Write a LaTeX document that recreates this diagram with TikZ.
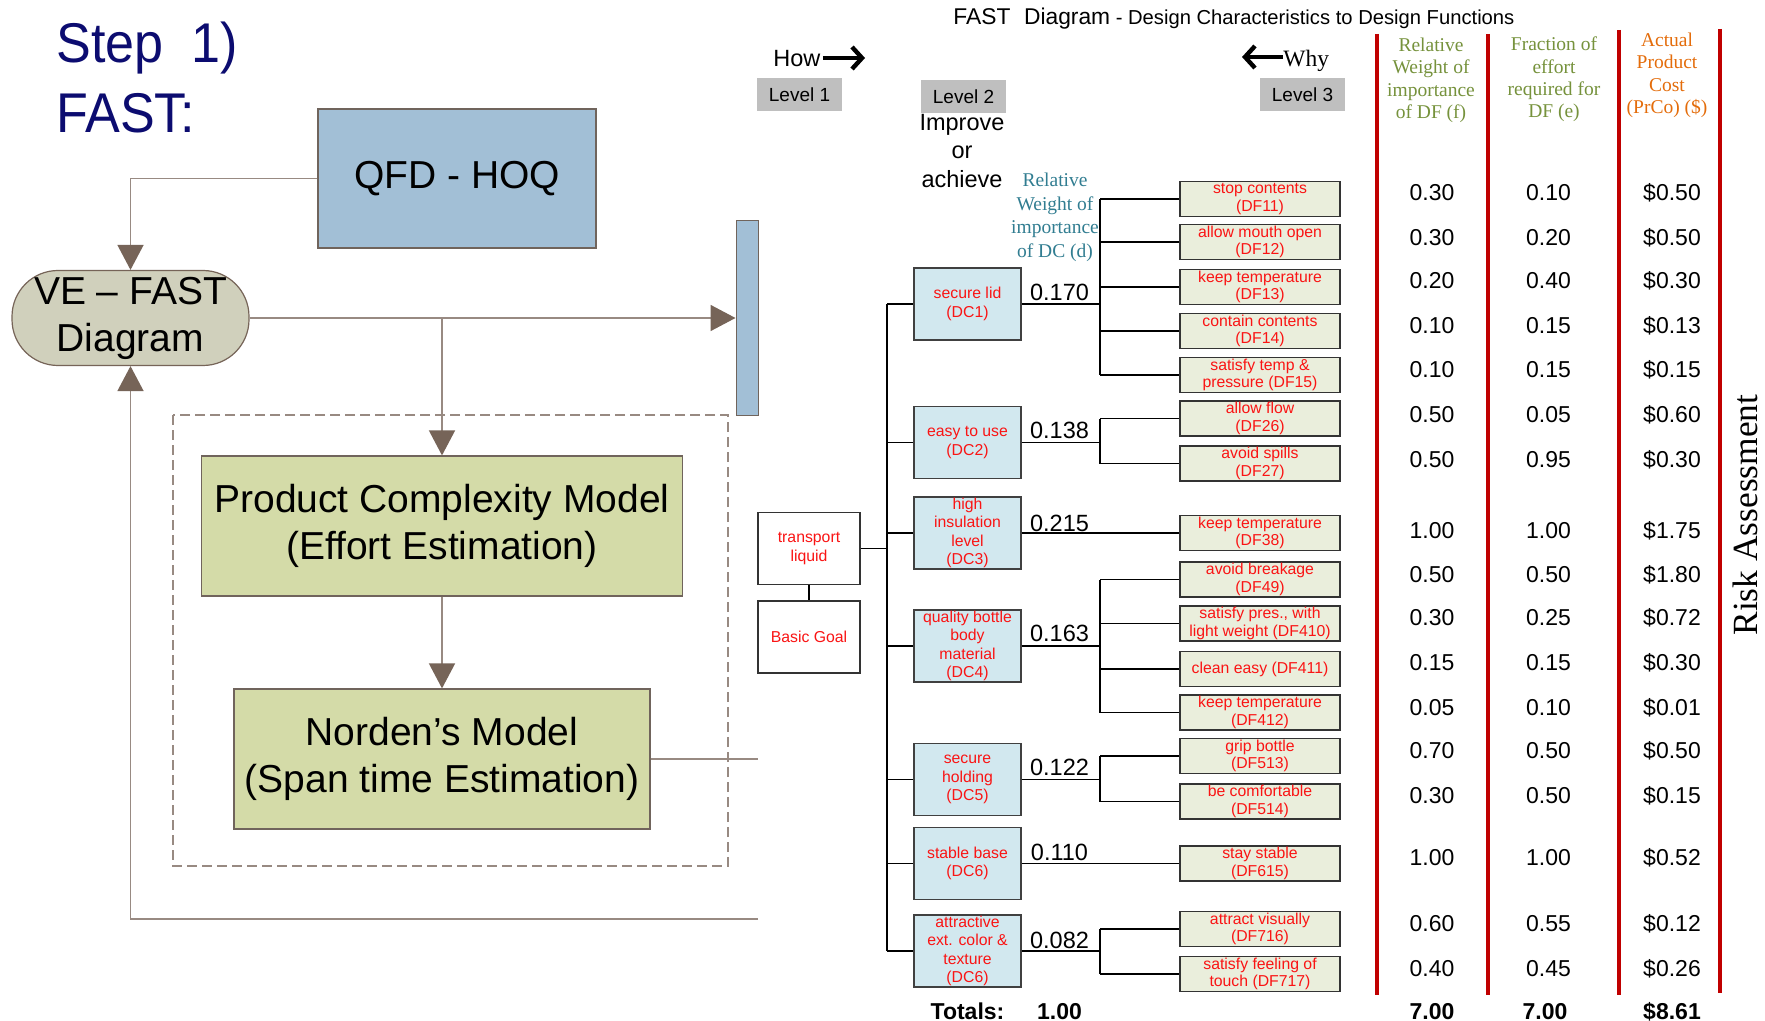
\documentclass[tikz,border=0pt]{standalone}
\usepackage{fontspec}
\setmainfont{Liberation Sans}
\newfontfamily\tnr{Liberation Serif}
\newfontfamily\stepfont[FakeStretch=0.93]{Liberation Sans}
\usetikzlibrary{arrows.meta}
\definecolor{navytxt}{RGB}{12,12,112}
\definecolor{lblue}{RGB}{162,191,214}
\definecolor{lbord}{RGB}{112,100,92}
\definecolor{vefill}{RGB}{208,208,188}
\definecolor{olfill}{RGB}{212,219,168}
\definecolor{lline}{RGB}{152,138,130}
\definecolor{lhead}{RGB}{118,100,88}
\definecolor{dcfill}{RGB}{210,232,239}
\definecolor{dffill}{RGB}{234,238,220}
\definecolor{lvgray}{RGB}{191,191,191}
\definecolor{redtxt}{RGB}{250,20,20}
\definecolor{tealtxt}{RGB}{49,125,145}
\definecolor{olivetxt}{RGB}{118,146,60}
\definecolor{orangetxt}{RGB}{228,108,10}
\definecolor{redline}{RGB}{192,0,0}
\begin{document}
\begin{tikzpicture}[x=0.5pt,y=-0.5pt,
  lbox/.style={draw=lbord,line width=0.6pt,inner sep=0pt,align=center,font=\fontsize{19.5}{23.5}\selectfont},
  lconn/.style={draw=lline,line width=0.8pt},
  larr/.style={lconn,-{Triangle[width=13pt,length=12.5pt,color=lhead]}},
  dcbox/.style={draw=black!75,fill=dcfill,line width=0.7pt,minimum width=53.5pt,minimum height=36pt,inner sep=0pt,align=center,text=redtxt,font=\fontsize{7.9}{9.3}\selectfont},
  dfbox/.style={draw=black!80,fill=dffill,line width=0.7pt,minimum width=80pt,minimum height=17.5pt,inner sep=0pt,align=center,text=redtxt,font=\fontsize{7.9}{8.9}\selectfont},
  wbox/.style={draw=black!80,fill=white,line width=0.6pt,minimum width=51pt,minimum height=36pt,inner sep=0pt,align=center,text=redtxt,font=\fontsize{7.9}{9.3}\selectfont},
  lvl/.style={fill=lvgray,minimum width=42.5pt,minimum height=16.5pt,inner sep=0pt,font=\fontsize{9.5}{11}\selectfont},
  tline/.style={draw=black,line width=0.7pt},
  num/.style={anchor=base,inner sep=0pt,font=\fontsize{11.75}{14}\selectfont},
  val/.style={anchor=base,inner sep=0pt,font=\fontsize{11.5}{14}\selectfont},
  tot/.style={anchor=base,inner sep=0pt,font=\bfseries\fontsize{11.5}{14}\selectfont},
  hdr/.style={align=center,inner sep=0pt,font=\tnr\fontsize{9.75}{11.2}\selectfont},
  rline/.style={draw=redline,line width=1.75pt},
]
\useasboundingbox[fill=white] (0,0) rectangle (1765,1021);

% ---------- left panel ----------
\node[anchor=base west,inner sep=0pt,text=navytxt,font=\stepfont\fontsize{28}{32}\selectfont] (step) at (56,63) {Step\hspace{0.5em}1)};
\node[anchor=base west,inner sep=0pt,text=navytxt,font=\stepfont\fontsize{28}{32}\selectfont] (fastl) at (56,133) {FAST:};

\node[lbox,fill=lblue,minimum width=139pt,minimum height=69.5pt] (qfd) at (457,178.5) {QFD - HOQ};
\node[lbox,fill=vefill,draw=lhead,minimum width=118.5pt,minimum height=47.5pt,rounded corners=23pt] (vefast) at (130.5,318) {VE -- FAST\\Diagram};
\node[fill=lblue,draw=lbord,line width=0.5pt,minimum width=11pt,minimum height=97pt,inner sep=0pt] (bar) at (747,318) {};
\draw[draw=lline,line width=0.7pt,dash pattern=on 5pt off 2.5pt] (173,415) rectangle (728,866);
\node[lbox,fill=olfill,minimum width=240.5pt,minimum height=70pt] (pcm) at (442,526) {Product Complexity Model\\(Effort Estimation)};
\node[lbox,fill=olfill,minimum width=208pt,minimum height=70pt] (norden) at (442,759) {Norden’s Model\\(Span time Estimation)};
\coordinate (nend) at (758,759);
\coordinate (bend) at (758,919);

\draw[larr] (qfd.west) -| (vefast.north);
\draw[larr] (vefast.east) -- (bar.west);
\draw[larr] (vefast.east -| pcm.north) -- (pcm.north);
\draw[larr] (pcm.south) -- (norden.north);
\draw[lconn] (norden.east) -- (nend);
\draw[larr] (bend) -| (vefast.south);

% ---------- right panel: headings ----------
\node[anchor=base west,inner sep=0pt] (title) at (953,25) {{\fontsize{11.4}{13}\selectfont FAST\hspace{0.6em}Diagram} {\fontsize{10.1}{12}\selectfont - Design Characteristics to Design Functions}};
\node[anchor=base west,inner sep=0pt,font=\fontsize{11.75}{14}\selectfont] (how) at (773,66.5) {How};
\coordinate (howend) at (865,58);
\draw[line width=2.2pt,-{Straight Barb[length=5pt,width=11pt]}] (how.east |- howend) ++(2,0) -- (howend);
\node[anchor=base west,inner sep=0pt,font=\tnr\fontsize{11.75}{14}\selectfont] (why) at (1283,67) {Why};
\coordinate (whyend) at (1242,57);
\draw[line width=2.2pt,-{Straight Barb[length=5pt,width=11pt]}] (why.west |- whyend) -- (whyend);

\node[lvl] (lv1) at (799.5,94.5) {Level 1};
\node[lvl] (lv2) at (963.5,96.5) {Level 2};
\node[lvl] (lv3) at (1302.5,94.5) {Level 3};
\node[align=center,inner sep=0pt,font=\fontsize{11.75}{14.25}\selectfont] (impr) at (962,151) {Improve\\or\\achieve};
\node[hdr,text=tealtxt,font=\tnr\fontsize{9.75}{11.8}\selectfont] (dchdr) at (1055,217.5) {Relative\\Weight of\\importance\\of DC (d)};

% ---------- right panel: tree ----------
\node[wbox] (tl) at (809,548.5) {transport\\liquid};
\node[wbox] (bg) at (809,637) {Basic Goal};

\node[dcbox] (dc1) at (967.5,304) {secure lid\\(DC1)};
\node[dcbox] (dc2) at (967.5,442.5) {easy to use\\(DC2)};
\node[dcbox] (dc3) at (967.5,533) {high\\insulation\\level\\(DC3)};
\node[dcbox] (dc4) at (967.5,646) {quality bottle\\body\\material\\(DC4)};
\node[dcbox] (dc5) at (967.5,779.5) {secure\\holding\\(DC5)};
\node[dcbox] (dc6) at (967.5,863.5) {stable base\\(DC6)};
\node[dcbox] (dc7) at (967.5,951) {attractive\\ext. color \&\\texture\\(DC6)};

\node[dfbox] (df11) at (1260,199) {stop contents\\(DF11)};
\node[dfbox] (df12) at (1260,242) {allow mouth open\\(DF12)};
\node[dfbox] (df13) at (1260,287) {keep temperature\\(DF13)};
\node[dfbox] (df14) at (1260,331) {contain contents\\(DF14)};
\node[dfbox] (df15) at (1260,375) {satisfy temp \&\\pressure (DF15)};
\node[dfbox] (df26) at (1260,418.5) {allow flow\\(DF26)};
\node[dfbox] (df27) at (1260,463.5) {avoid spills\\(DF27)};
\node[dfbox] (df38) at (1260,533) {keep temperature\\(DF38)};
\node[dfbox] (df49) at (1260,579.5) {avoid breakage\\(DF49)};
\node[dfbox] (df410) at (1260,623.5) {satisfy pres., with\\light weight (DF410)};
\node[dfbox] (df411) at (1260,669) {clean easy (DF411)};
\node[dfbox] (df412) at (1260,712.5) {keep temperature\\(DF412)};
\node[dfbox] (df513) at (1260,756) {grip bottle\\(DF513)};
\node[dfbox] (df514) at (1260,801.5) {be comfortable\\(DF514)};
\node[dfbox] (df615) at (1260,863.5) {stay stable\\(DF615)};
\node[dfbox] (df716) at (1260,929) {attract visually\\(DF716)};
\node[dfbox] (df717) at (1260,974) {satisfy feeling of\\touch (DF717)};

\coordinate (tx) at (887,0);
\coordinate (vx) at (1100,0);

% trunk
\draw[tline] (tx |- dc1.west) -- (tx |- dc7.west);
\draw[tline] (tl.east) -- (tl.east -| tx);
\draw[tline] (tl.south) -- (bg.north);
\foreach \d in {dc1,dc2,dc3,dc4,dc5,dc6,dc7}{
  \draw[tline] (tx |- \d.west) -- (\d.west);
}
% groups
\draw[tline] (dc1.east) -- (dc1.east -| vx);
\draw[tline] (vx |- df11.west) -- (vx |- df15.west);
\foreach \f in {df11,df12,df13,df14,df15}{\draw[tline] (vx |- \f.west) -- (\f.west);}
\draw[tline] (dc2.east) -- (dc2.east -| vx);
\draw[tline] (vx |- df26.west) -- (vx |- df27.west);
\foreach \f in {df26,df27}{\draw[tline] (vx |- \f.west) -- (\f.west);}
\draw[tline] (dc3.east) -- (df38.west);
\draw[tline] (dc4.east) -- (dc4.east -| vx);
\draw[tline] (vx |- df49.west) -- (vx |- df412.west);
\foreach \f in {df49,df410,df411,df412}{\draw[tline] (vx |- \f.west) -- (\f.west);}
\draw[tline] (dc5.east) -- (dc5.east -| vx);
\draw[tline] (vx |- df513.west) -- (vx |- df514.west);
\foreach \f in {df513,df514}{\draw[tline] (vx |- \f.west) -- (\f.west);}
\draw[tline] (dc6.east) -- (df615.west);
\draw[tline] (dc7.east) -- (dc7.east -| vx);
\draw[tline] (vx |- df716.west) -- (vx |- df717.west);
\foreach \f in {df716,df717}{\draw[tline] (vx |- \f.west) -- (\f.west);}

% DC weights
\node[num] (w1) at (1059.5,300.5) {0.170};
\node[num] (w2) at (1059.5,438.5) {0.138};
\node[num] (w3) at (1059.5,531.5) {0.215};
\node[num] (w4) at (1059.5,641.5) {0.163};
\node[num] (w5) at (1059.5,775.5) {0.122};
\node[num] (w6) at (1059.5,860.5) {0.110};
\node[num] (w7) at (1059.5,948.5) {0.082};

% ---------- columns ----------
\draw[rline] (1377,34) -- (1377,995);
\draw[rline] (1488,34) -- (1488,995);
\draw[rline] (1619,30) -- (1619,995);
\draw[rline] (1720,29) -- (1720,993);
\node[hdr,text=olivetxt] (h1) at (1431,80.5) {Relative\\Weight of\\importance\\of DF (f)};
\node[hdr,text=olivetxt] (h2) at (1554,79.5) {Fraction of\\effort\\required for\\DF (e)};
\node[hdr,text=orangetxt] (h3) at (1667,75.5) {Actual\\Product\\Cost\\(PrCo) (\$)};

\foreach \y/\a/\b/\c in {
  192/0.30/0.10/0.50, 237/0.30/0.20/0.50, 280/0.20/0.40/0.30, 325/0.10/0.15/0.13,
  369/0.10/0.15/0.15, 414/0.50/0.05/0.60, 459/0.50/0.95/0.30, 530/1.00/1.00/1.75,
  574/0.50/0.50/1.80, 617/0.30/0.25/0.72, 662/0.15/0.15/0.30, 707/0.05/0.10/0.01,
  750/0.70/0.50/0.50, 795/0.30/0.50/0.15, 857/1.00/1.00/0.52, 923/0.60/0.55/0.12,
  968/0.40/0.45/0.26}{
  \node[val] at (1432,\y+8.5) {\a};
  \node[val] at (1548.5,\y+8.5) {\b};
  \node[val] at (1672,\y+8.5) {\$\c};
}

\node[tot] (totl) at (967.5,1019) {Totals:};
\node[tot] (tot1) at (1059.5,1019) {1.00};
\node[tot] (tot2) at (1432,1019) {7.00};
\node[tot] (tot3) at (1545,1019) {7.00};
\node[tot] (tot4) at (1672,1019) {\$8.61};

\node[rotate=90,inner sep=0pt,font=\tnr\fontsize{17.7}{20}\selectfont] (risk) at (1745,515) {Risk Assessment};
\end{tikzpicture}
\end{document}
